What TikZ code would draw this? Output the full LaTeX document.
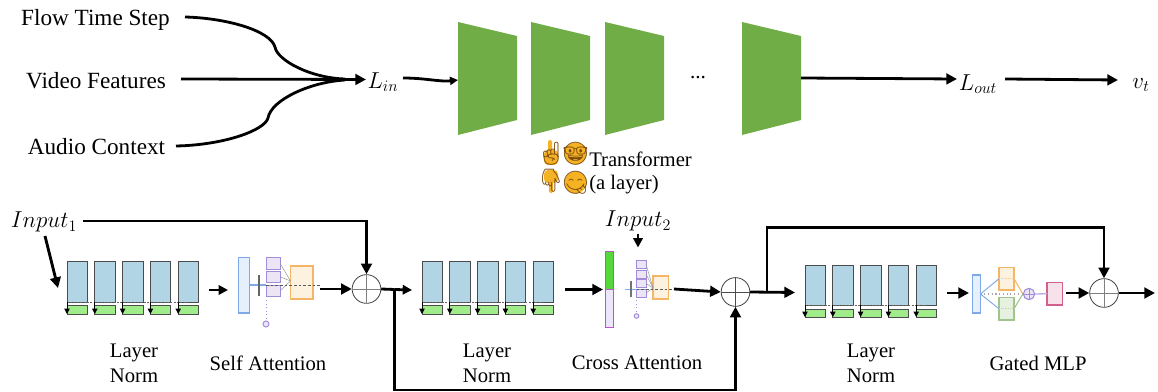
\documentclass[tikz,border=0pt]{standalone}
\usepackage{fontspec}
\setmainfont{Liberation Serif}
\newfontfamily\emojifont{Noto Emoji}
\usetikzlibrary{arrows.meta,calc}
\definecolor{lnblue}{HTML}{B1D5E5}
\definecolor{lngreen}{HTML}{A0EB8A}
\definecolor{trap}{HTML}{70AD47}
\definecolor{bluee}{HTML}{7FA8E6}
\definecolor{bluef}{HTML}{E6F0FC}
\definecolor{purpe}{HTML}{A08CD8}
\definecolor{purpf}{HTML}{EBE5F6}
\definecolor{orane}{HTML}{F5B566}
\definecolor{oranf}{HTML}{FDF2E0}
\definecolor{greee}{HTML}{A0C48C}
\definecolor{greef}{HTML}{E6F1E0}
\definecolor{pinke}{HTML}{D2608F}
\definecolor{pinkf}{HTML}{F8E2EA}
\definecolor{mage}{HTML}{C050D0}
\definecolor{magf}{HTML}{EDE6FB}
\definecolor{brightg}{HTML}{55D83A}
\definecolor{emo}{HTML}{F5B324}
\definecolor{emoline}{HTML}{7A4A10}
\tikzset{
  x=0.75pt,y=-0.75pt,
  txt/.style={font=\fontsize{17.4pt}{18pt}\selectfont,inner sep=0pt,text=black},
  lab/.style={font=\fontsize{15.5pt}{18.7pt}\selectfont,inner sep=0pt,align=center,text=black},
  mth/.style={font=\LARGE,inner sep=0pt,text=black},
  conn/.style={line width=2.1pt,black},
  arr/.style={conn,-{Triangle[length=8pt,width=8pt]}},
  sarr/.style={conn,-{Triangle[length=7pt,width=7pt]}},
  plus/.style={circle,draw=black!75,line width=0.6pt,minimum size=21.5pt,inner sep=0pt},
  trapz/.style={fill=trap,draw=none},
  bx/.style={rectangle,inner sep=0pt,outer sep=0pt},
  lnb/.style={bx,fill=lnblue,draw=black!70,line width=0.7pt},
  lng/.style={bx,fill=lngreen,draw=black!70,line width=0.7pt},
  bluebox/.style={bx,fill=bluef,draw=bluee,line width=0.9pt},
  purpbox/.style={bx,fill=purpf,draw=purpe,line width=0.7pt},
  oranbox/.style={bx,fill=oranf,draw=orane,line width=1pt},
  greebox/.style={bx,fill=greef,draw=greee,line width=1pt},
  pinkbox/.style={bx,fill=pinkf,draw=pinke,line width=0.9pt},
  thing/.style={line width=0.4pt,black!40},
  dashl/.style={line width=0.5pt,black!65,dash pattern=on 2pt off 1.5pt},
  emoj/.style={font=\emojifont\fontsize{17pt}{18pt}\selectfont,inner sep=0pt,text=emoline},
}
% name, x1, y1, x2, y2, style
\newcommand\bxn[6]{\node[#6,minimum width={(#4-(#2))*0.75pt},minimum height={(#5-(#3))*0.75pt}] (#1) at ({(#2+#4)/2},{(#3+#5)/2}) {};}
% prefix, left x, top, bottom of blue, green top, green bottom
\newcommand\lnorm[6]{%
  \foreach \i in {0,...,4}{
    \pgfmathsetmacro\xa{#2+27.8*\i}
    \pgfmathsetmacro\xb{\xa+20.5}
    \bxn{#1b\i}{\xa}{#3}{\xb}{#4}{lnb}
    \bxn{#1g\i}{\xa}{#5}{\xb}{#6}{lng}
  }
  \draw[line width=0.5pt,black!60,dash pattern=on 1.5pt off 1pt] (#1b0.south west) -- (#1b4.south);
  \foreach \i in {0,...,4}{
    \draw[line width=0.6pt,-{Triangle[length=4pt,width=4pt]}] (#1b\i.south west) -- (#1g\i.south west);
  }
}
\begin{document}
\begin{tikzpicture}
\useasboundingbox (0,0) rectangle (1158,392);

% ---- top row
\node[txt] (flow) at (95.5,20) {Flow Time Step};
\node[txt] (video) at (96,81) {Video Features};
\node[txt] (audio) at (96.5,147) {Audio Context};
\node[mth] (lin) at (383,82) {$L_{in}$};
\node[mth] (lout) at (978,84) {$L_{out}$};
\node[mth] (vt) at (1141,85) {$v_t$};
\coordinate (fs) at (185,17);
\coordinate (vs) at (181,79);
\coordinate (as) at (176,146);
\coordinate (merge) at (366,79.5);

\draw[conn] (fs) .. controls (225,18) and (270,30) .. (275,47)
   .. controls (277,60) and (310,78) .. (345,79);
\draw[conn] (as) .. controls (225,145) and (265,130) .. (268,118)
   .. controls (271,100) and (310,82) .. (345,80);
\draw[arr] (vs) -- (merge);

\foreach \n/\x in {t1/458,t2/531,t3/605,t4/742}{
  \fill[trapz] (\x,22) -- (\x+59,36) -- (\x+59,120) -- (\x,135) -- cycle;
  \coordinate (\n l) at (\x,80);
  \coordinate (\n r) at (\x+59,78);
}
\node[txt,font=\fontsize{16pt}{18pt}\selectfont] (dots) at (698,78) {...};
\coordinate (linout) at (403,78);
\coordinate (loutin) at (957,79);
\coordinate (loutout) at (1005,79);
\coordinate (vtin) at (1118,80);
\draw[conn,-{Triangle[length=6pt,width=6pt]}] (linout) .. controls (425,78) and (440,82) .. (t1l);
\draw[arr] (t4r) -- (loutin);
\draw[arr] (loutout) -- (vtin);

% emoji and caption
\fill[emo,rounded corners=1.5pt] (548,140) rectangle (552,156);
\fill[emo,rounded corners=3pt] (544,150) rectangle (558,165);
\node[emoj] (e1) at (551,154) {\symbol{"261D}};
\fill[emo] (575.5,153.5) circle (11);
\node[emoj] (e2) at (575.5,153.5) {\symbol{"1F913}};
\fill[emo,rounded corners=1.5pt] (549,178) rectangle (553,193);
\fill[emo,rounded corners=3pt] (544,170) rectangle (558,183);
\node[emoj] (e3) at (551,181) {\symbol{"1F447}};
\fill[emo] (575.5,182.5) circle (11);
\node[emoj] (e4) at (575.5,182.5) {\symbol{"1F60B}};
\node[lab,anchor=west] (tf) at (589,159) {Transformer};
\node[lab,anchor=west] (al) at (589,185) {(a layer)};

% ---- bottom row: inputs
\node[mth] (in1) at (44,222) {$Input_1$};
\node[mth] (in2) at (638,221) {$Input_2$};

% layer norm blocks
\lnorm{A}{67}{261.5}{302}{305}{314}
\lnorm{B}{422}{261.5}{302}{305}{314}
\lnorm{C}{805}{265.5}{305}{309}{317}

\node[lab] (n1) at (134,363.5) {Layer\\Norm};
\node[lab] (n2) at (487,363.5) {Layer\\Norm};
\node[lab] (n3) at (871,363.5) {Layer\\Norm};
\node[lab] (sa) at (268,363) {Self Attention};
\node[lab] (ca) at (637,363) {Cross Attention};
\node[lab] (gm) at (1038,363) {Gated MLP};

% adders
\node[plus] (p1) at (366.5,289) {};
\node[plus] (p2) at (735.5,292) {};
\node[plus] (p3) at (1104,293) {};
\draw[line width=0.7pt,black!50] (p1.north) -- (p1.south) (p1.west) -- (p1.east);
\draw[line width=0.6pt,black!70] (p2.north) -- (p2.south) (p2.west) -- (p2.east);
\draw[line width=0.7pt,black!50] (p3.north) -- (p3.south) (p3.west) -- (p3.east);

% self attention
\bxn{sa0}{238.5}{257.5}{249.5}{313}{bluebox}
\bxn{sa1}{266}{257.5}{280}{269}{purpbox}
\bxn{sa2}{266}{271}{280}{282.5}{purpbox}
\bxn{sa3}{266}{285}{280}{296.5}{purpbox}
\bxn{sa4}{290.5}{266}{313}{299}{oranbox}
\coordinate (sac) at (290.5,281);
\draw[bluee,line width=0.8pt] (sa0.east |- sa3.north west) -- (sa3.north west);
\draw[line width=2pt,black!60] (259,275) -- (259,296);
\foreach \i in {1,2,3}{\draw[thing] (sa\i.east) -- (sac);}
\draw[dashl] (sa3.north west) -- (320,285);
\node[circle,draw=purpe,fill=purpf,line width=0.7pt,minimum size=4.5pt,inner sep=0pt] (sad) at (266,324) {};
\draw[purpe,line width=0.7pt,dotted] (sa3.south west) -- (sad);

% cross attention
\bxn{ca0}{605.5}{251}{613}{289}{bx,fill=brightg,draw=mage,line width=0.7pt}
\bxn{ca1}{605.5}{289}{613}{327}{bx,fill=magf,draw=mage,line width=0.7pt}
\bxn{ca2}{636.5}{260}{646}{268.5}{purpbox}
\bxn{ca3}{636.5}{270}{646}{278}{purpbox}
\bxn{ca4}{636.5}{279.5}{646}{287.5}{purpbox}
\bxn{ca5}{636.5}{289}{646}{297}{purpbox}
\bxn{ca6}{653}{276}{668.5}{299}{oranbox}
\coordinate (cac) at (653,288);
\coordinate (cal) at (625,289);
\draw[bluee,line width=0.6pt] (cal) -- (ca5.north west);
\draw[line width=1.6pt,black!55] (631,281) -- (631,297);
\foreach \i in {2,3,4,5}{\draw[thing] (ca\i.east) -- (cac);}
\draw[dashl] (ca5.north west) -- (675,289);
\node[circle,draw=purpe,fill=purpf,line width=0.7pt,minimum size=3.5pt,inner sep=0pt] (cad) at (636.5,316) {};
\draw[purpe,line width=0.6pt,dotted] (ca5.south west) -- (cad);

% gated MLP
\bxn{g0}{972.5}{275}{980.5}{313}{bluebox}
\bxn{g1}{999}{267.5}{1014}{290}{oranbox}
\bxn{g2}{999}{297.5}{1014}{320}{greebox}
\node[circle,draw=purpe,fill=purpf,line width=0.8pt,minimum size=8.5pt,inner sep=0pt] (g3) at (1029,294) {};
\bxn{g4}{1047}{282.5}{1062.5}{305}{pinkbox}
\draw[bluee,line width=0.7pt] (g0.east) -- (g1.west);
\draw[bluee,line width=0.7pt] (g0.east) -- (g2.west);
\draw[orane,line width=0.8pt] (g1.east) -- (g3.west);
\draw[greee,line width=0.8pt] (g2.east) -- (g3.west);
\draw[purpe!70,line width=1pt] (g3.east) -- (g4.west);
\draw[black!35,line width=0.8pt,dotted] (g0.east) -- (g3.west);
\draw[orane!70,line width=0.4pt,densely dotted] (g1.west) -- (g1.east);
\draw[greee!70,line width=0.4pt,densely dotted] (g2.west) -- (g2.east);
\draw[purpe,line width=0.4pt] (g3.north) -- (g3.south) (g3.west) -- (g3.east);

% ---- bottom connectors
\coordinate (in1a) at (45,236);
\coordinate (in1b) at (58,288);
\coordinate (in1r) at (83,221);
\draw[arr] (in1a) -- (in1b);
\draw[arr] (in1r) -| (p1.north);
\coordinate (in2a) at (638,234);
\coordinate (in2b) at (638,247.5);
\draw[sarr] (in2a) -- (in2b);
\coordinate (ab1) at (209,290);
\coordinate (ab2) at (228,290);
\draw[sarr] (ab1) -- (ab2);
\coordinate (sao) at (320,289);
\draw[arr] (sao) -- (p1.west);
\coordinate (j1) at (394.5,289.5);
\coordinate (b1in) at (412,290);
\draw[conn] (p1.east) -- (j1);
\draw[sarr] (j1) -- (b1in);
\coordinate (bot) at (735.5,390);
\draw[arr] (j1) |- (bot) -- (p2.south);
\coordinate (bc1) at (565,289.5);
\coordinate (bc2) at (603,289.5);
\draw[arr] (bc1) -- (bc2);
\coordinate (cao) at (674,289);
\draw[arr] (cao) -- (p2.west);
\coordinate (j2) at (767,292);
\coordinate (cin) at (795,292.5);
\draw[arr] (p2.east) -- (cin);
\coordinate (top) at (767,227.5);
\draw[arr] (j2) -- (top) -| (p3.north);
\coordinate (cg1) at (947,293);
\coordinate (cg2) at (969,293);
\draw[arr] (cg1) -- (cg2);
\coordinate (go) at (1066,293);
\draw[arr] (go) -- (p3.west);
\coordinate (fin) at (1155,293);
\draw[arr] (p3.east) -- (fin);
\end{tikzpicture}
\end{document}
